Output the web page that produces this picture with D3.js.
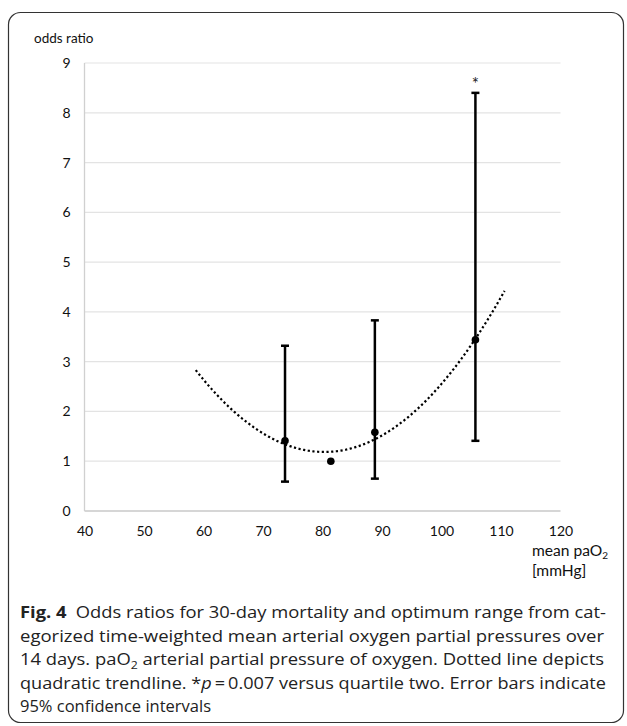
<!DOCTYPE html>
<html>
<head>
<meta charset="utf-8">
<script src="https://cdn.jsdelivr.net/npm/d3@7"></script>
<style>
  html, body { margin: 0; padding: 0; background: #fff; }
  svg { display: block; }
</style>
</head>
<body>
<svg id="chart" width="627" height="726"></svg>
<script>
// ---- data ----
const xTickValues = [40, 50, 60, 70, 80, 90, 100, 110, 120];
const yTickValues = [0, 1, 2, 3, 4, 5, 6, 7, 8, 9];
const meanPaO2 = [73.7, 81.4, 88.8, 105.7];
const oddsRatio = [1.41, 1.0, 1.58, 3.44];
const ciLower = [0.59, null, 0.65, 1.41];
const ciUpper = [3.32, null, 3.83, 8.40];
const significant = [false, false, false, true];
const trendRange = [58.7, 110.6];
const captionLines = [
  "Odds ratios for 30-day mortality and optimum range from cat-",
  "egorized time-weighted mean arterial oxygen partial pressures over",
  "14 days. paO| arterial partial pressure of oxygen. Dotted line depicts",
  "quadratic trendline. *p\u2009=\u20090.007 versus quartile two. Error bars indicate",
  "95% confidence intervals"
];

const svg = d3.select("#chart");
const chartFont = "Lato, 'Open Sans', sans-serif";
const capFont = "'Open Sans', 'Noto Sans', sans-serif";

// frame
svg.append("rect").attr("x", 8.5).attr("y", 12.5).attr("width", 615).attr("height", 710)
  .attr("rx", 12).attr("fill", "none").attr("stroke", "#333").attr("stroke-width", 1.2);

const x = d3.scaleLinear().domain([40, 120]).range([84.5, 560.5]);
const y = d3.scaleLinear().domain([0, 9]).range([511, 63]);

// gridlines
svg.append("g").selectAll("line").data(yTickValues.filter(d => d > 0)).join("line")
  .attr("x1", x(40)).attr("x2", x(120))
  .attr("y1", d => y(d)).attr("y2", d => y(d))
  .attr("stroke", "#e3e3e3").attr("stroke-width", 1.2);

// axes lines
svg.append("line").attr("x1", x(40)).attr("x2", x(120)).attr("y1", y(0)).attr("y2", y(0))
  .attr("stroke", "#c9c9c9").attr("stroke-width", 1.5);
svg.append("line").attr("x1", x(40)).attr("x2", x(40)).attr("y1", y(0)).attr("y2", y(9))
  .attr("stroke", "#d0d0d0").attr("stroke-width", 1.3);

// y tick labels
const yAxis = d3.axisLeft(y).tickValues(yTickValues).tickSize(0).tickPadding(14).tickFormat(d3.format("d"));
const yg = svg.append("g").attr("transform", `translate(${x(40)},0)`).call(yAxis);
yg.select(".domain").remove();
yg.selectAll("text").attr("font-family", chartFont).attr("font-size", 14).attr("fill", "#111");

// x tick labels
const xAxis = d3.axisBottom(x).tickValues(xTickValues).tickSize(0).tickPadding(15).tickFormat(d3.format("d"));
const xg = svg.append("g").attr("transform", `translate(0,${y(0)})`).call(xAxis);
xg.select(".domain").remove();
xg.selectAll("text").attr("font-family", chartFont).attr("font-size", 14).attr("fill", "#111");

// axis titles
svg.append("text").attr("x", 34).attr("y", 43).attr("font-family", chartFont).attr("font-size", 13.5)
  .attr("fill", "#111").text("odds ratio");
const xt = svg.append("text").attr("x", 532).attr("y", 556).attr("font-family", chartFont)
  .attr("font-size", 15.6).attr("fill", "#111");
xt.append("tspan").text("mean paO");
xt.append("tspan").attr("font-size", 10).attr("dy", 3).text("2");
svg.append("text").attr("x", 532).attr("y", 576).attr("font-family", chartFont).attr("font-size", 15.6)
  .attr("fill", "#111").text("[mmHg]");

// trendline: least-squares quadratic fit of the points
function quadFit(xs, ys) {
  let S = [0, 0, 0, 0, 0], T = [0, 0, 0];
  xs.forEach((xi, i) => {
    for (let k = 0; k < 5; k++) S[k] += Math.pow(xi, k);
    for (let k = 0; k < 3; k++) T[k] += Math.pow(xi, k) * ys[i];
  });
  const A = [[S[0], S[1], S[2], T[0]], [S[1], S[2], S[3], T[1]], [S[2], S[3], S[4], T[2]]];
  for (let i = 0; i < 3; i++) {
    for (let j = i + 1; j < 3; j++) {
      const f = A[j][i] / A[i][i];
      for (let k = i; k < 4; k++) A[j][k] -= f * A[i][k];
    }
  }
  const c = [0, 0, 0];
  for (let i = 2; i >= 0; i--) {
    let s = A[i][3];
    for (let k = i + 1; k < 3; k++) s -= A[i][k] * c[k];
    c[i] = s / A[i][i];
  }
  return v => c[0] + c[1] * v + c[2] * v * v;
}
const fit = quadFit(meanPaO2, oddsRatio);
const trendXs = d3.range(trendRange[0], trendRange[1] + 0.001, (trendRange[1] - trendRange[0]) / 200);
svg.append("path").datum(trendXs)
  .attr("d", d3.line().x(d => x(d)).y(d => y(fit(d))))
  .attr("fill", "none").attr("stroke", "#000").attr("stroke-width", 2.2)
  .attr("stroke-dasharray", "2.2,2.5");

// error bars
const idx = d3.range(meanPaO2.length).filter(i => ciLower[i] != null);
const eb = svg.append("g");
eb.selectAll("line.v").data(idx).join("line").attr("class", "v")
  .attr("x1", i => x(meanPaO2[i])).attr("x2", i => x(meanPaO2[i]))
  .attr("y1", i => y(ciLower[i])).attr("y2", i => y(ciUpper[i]))
  .attr("stroke", "#000").attr("stroke-width", 2.5);
["lo", "hi"].forEach(k => {
  eb.selectAll("line." + k).data(idx).join("line").attr("class", k)
    .attr("x1", i => x(meanPaO2[i]) - 4).attr("x2", i => x(meanPaO2[i]) + 4)
    .attr("y1", i => y(k === "lo" ? ciLower[i] : ciUpper[i]))
    .attr("y2", i => y(k === "lo" ? ciLower[i] : ciUpper[i]))
    .attr("stroke", "#000").attr("stroke-width", 2.5);
});

// points
svg.append("g").selectAll("circle").data(meanPaO2).join("circle")
  .attr("cx", d => x(d)).attr("cy", (d, i) => y(oddsRatio[i])).attr("r", 3.8).attr("fill", "#000");

// significance asterisk
svg.append("g").selectAll("text").data(d3.range(meanPaO2.length).filter(i => significant[i])).join("text")
  .attr("x", i => x(meanPaO2[i])).attr("y", i => y(ciUpper[i]) - 3)
  .attr("text-anchor", "middle").attr("font-family", chartFont).attr("font-size", 17).attr("fill", "#222")
  .text("*");

// caption
const capY = [618, 641.5, 665, 688.5, 712];
const capW = [586, 584, 584, 586, null];
captionLines.forEach((line, i) => {
  const t = svg.append("text").attr("x", 20).attr("y", capY[i]).attr("font-family", capFont)
    .attr("font-size", 16.5).attr("fill", "#222");
  if (capW[i]) t.attr("textLength", capW[i]).attr("lengthAdjust", "spacingAndGlyphs");
  if (i === 0) {
    t.append("tspan").attr("font-weight", "bold").text("Fig. 4");
    t.append("tspan").text("\u2002" + line);
  } else if (line.includes("|")) {
    const parts = line.split("|");
    t.append("tspan").text(parts[0]);
    t.append("tspan").attr("font-size", 11).attr("dy", 4).text("2");
    t.append("tspan").attr("dy", -4).text(parts[1]);
  } else if (line.includes("*p")) {
    const parts = line.split("*p");
    t.append("tspan").text(parts[0] + "*");
    t.append("tspan").attr("font-style", "italic").text("p");
    t.append("tspan").text(parts[1]);
  } else {
    t.text(line);
  }
});
</script>
</body>
</html>
